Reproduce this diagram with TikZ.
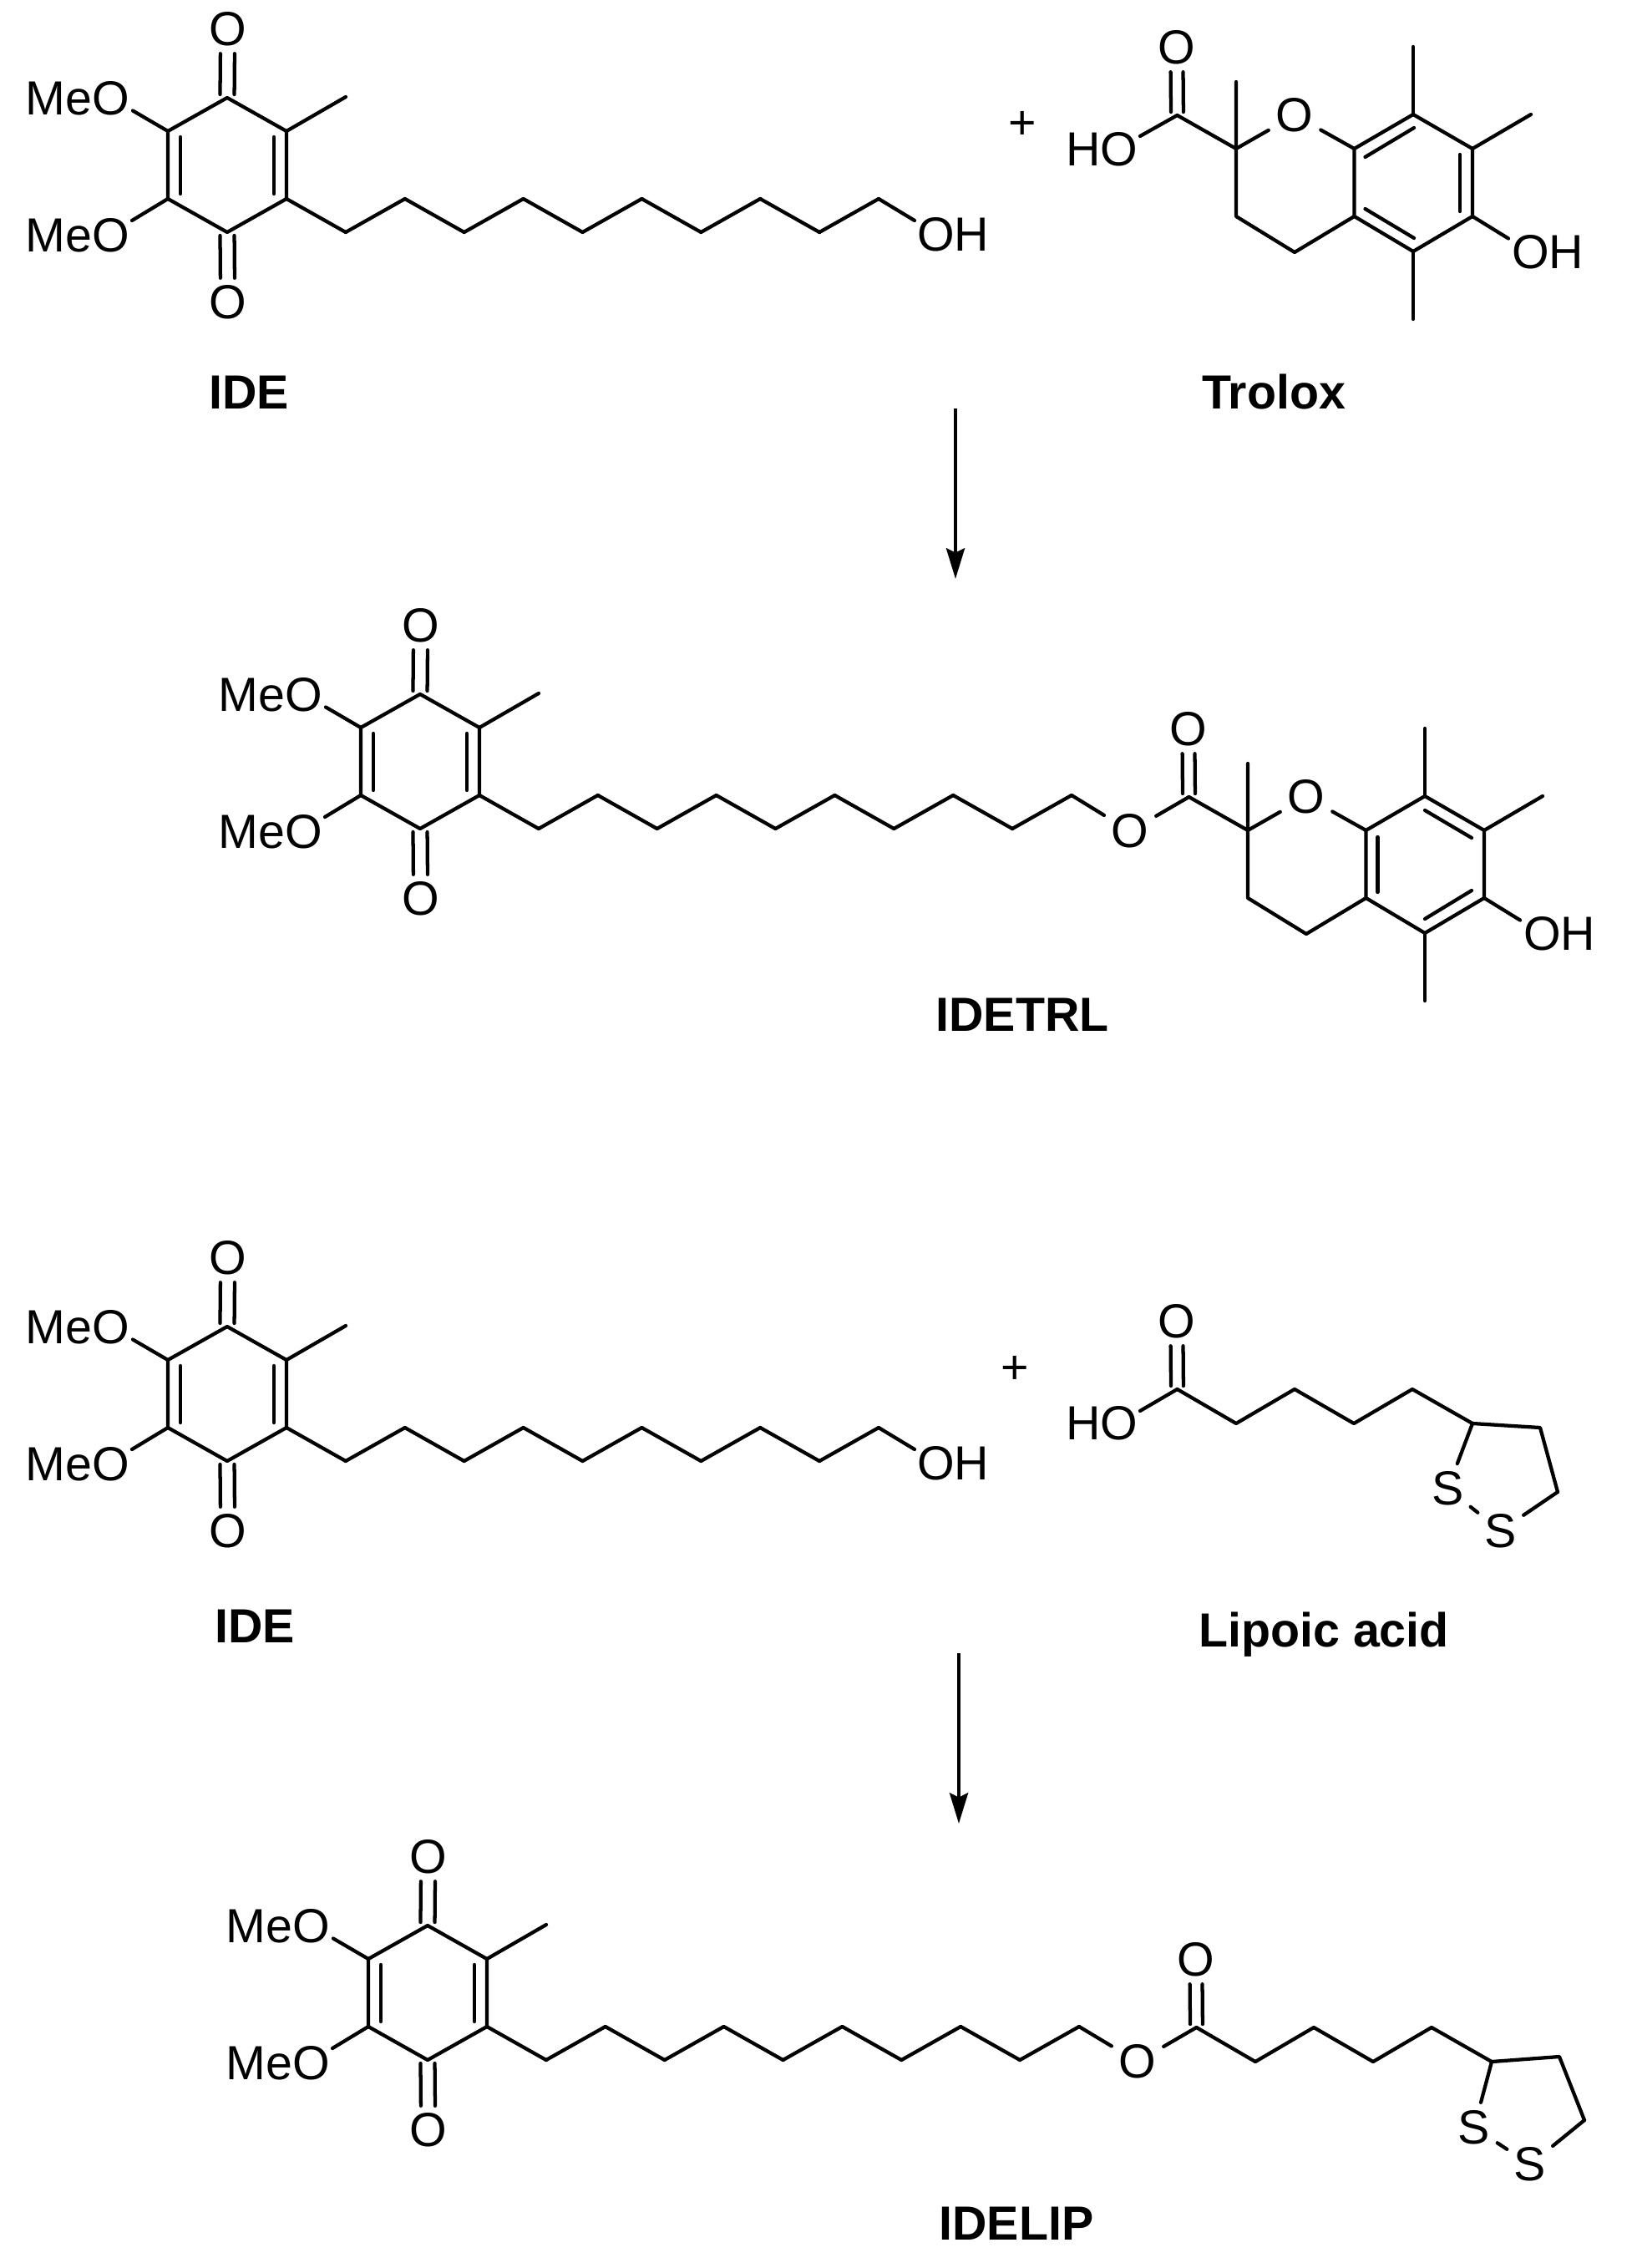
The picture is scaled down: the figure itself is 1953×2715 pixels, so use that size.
\documentclass[tikz,border=0pt]{standalone}
\usepackage{fontspec}
\setmainfont{Liberation Sans}
\usetikzlibrary{arrows.meta}
\tikzset{
	bond/.style={line width=3.2pt, line cap=round, line join=round},
	hetero/.style={bond, shorten <=7.5pt},
	dbl/.style={bond, shorten <=6.5pt, shorten >=3pt},
	rxn/.style={line width=3.5pt, -{Stealth[length=27.5pt,width=16.5pt,inset=4pt]}},
	atom/.style={inner sep=0pt, font=\fontsize{43}{43}\selectfont},
	lbl/.style={inner sep=0pt, anchor=base, font=\fontsize{43}{43}\selectfont\bfseries}}

\begin{document}
\begin{tikzpicture}[x=0.75pt,y=0.75pt,yscale=-1,xscale=1]
	\useasboundingbox (0,0) rectangle (1953,2715);

	%Shape: Quinone with side chain
	\foreach \mol/\dx/\dy in {ideA/0/0,trl/231/714,ideB/0/1471,lip/240/2188}{
	\begin{scope}[shift={(\dx,\dy)}]
		\coordinate (\mol-c1) at (272,117);
		\coordinate (\mol-c2) at (201,157);
		\coordinate (\mol-c3) at (201,238);
		\coordinate (\mol-c4) at (272,278);
		\coordinate (\mol-c5) at (343,238);
		\coordinate (\mol-c6) at (343,157);
		\coordinate (\mol-me) at (414,116);
		\coordinate (\mol-e1) at (159,132.5);
		\coordinate (\mol-e2) at (158,264);
		\foreach \k in {0,...,10}
			\coordinate (\mol-ch\k) at ({343+70.9*\k},{238+40*mod(\k,2)});
		\node[atom] (\mol-o1) at (272.5,35) {O};
		\node[atom] (\mol-o2) at (272.5,362) {O};
		\node[atom] (\mol-meo1) at (93,117.5) {MeO};
		\node[atom] (\mol-meo2) at (93,281.5) {MeO};
		\draw[bond] (\mol-c1) -- (\mol-c2) -- (\mol-c3) -- (\mol-c4) -- (\mol-c5) -- (\mol-c6) -- cycle;
		\draw[bond] (\mol-c6) -- (\mol-me);
		\draw[bond] (\mol-e1) -- (\mol-c2);
		\draw[bond] (\mol-e2) -- (\mol-c3);
		\draw[dbl] ([xshift=-6.4pt]\mol-o1.south) -- ([xshift=-6.4pt]\mol-c1);
		\draw[dbl] ([xshift=6.4pt]\mol-o1.south) -- ([xshift=6.4pt]\mol-c1);
		\draw[dbl] ([xshift=-6.4pt]\mol-o2.north) -- ([xshift=-6.4pt]\mol-c4);
		\draw[dbl] ([xshift=6.4pt]\mol-o2.north) -- ([xshift=6.4pt]\mol-c4);
		\draw[bond] ([shift={(15,7)}]\mol-c2) -- ([shift={(15,-6)}]\mol-c3);
		\draw[bond] ([shift={(-15,7)}]\mol-c6) -- ([shift={(-15,-6)}]\mol-c5);
		\foreach \k [remember=\k as \j (initially 0)] in {1,...,10}
			\draw[bond] (\mol-ch\j) -- (\mol-ch\k);
	\end{scope}}

	%Shape: Terminal hydroxyl
	\foreach \mol/\dy in {ideA/0,ideB/1471}{
		\coordinate (\mol-e3) at (1095,{264+\dy});
		\node[atom] (\mol-oh) at (1141,{280.5+\dy}) {OH};
		\draw[bond] (\mol-ch10) -- (\mol-e3);
	}

	%Shape: Chroman ring
	\foreach \ring/\dx/\dy in {tro/0/0,tra/14/816}{
	\begin{scope}[shift={(\dx,\dy)}]
		\coordinate (\ring-co) at (1409.5,138);
		\coordinate (\ring-c2) at (1480,178);
		\coordinate (\ring-c3) at (1480,259);
		\coordinate (\ring-c4) at (1550,302);
		\coordinate (\ring-ca) at (1621.5,259);
		\coordinate (\ring-c5) at (1692,301);
		\coordinate (\ring-c6) at (1763,259);
		\coordinate (\ring-c7) at (1763,178);
		\coordinate (\ring-c8) at (1692,137);
		\coordinate (\ring-cb) at (1621.5,178);
		\coordinate (\ring-m2) at (1480,98);
		\coordinate (\ring-m5) at (1692,382);
		\coordinate (\ring-m7) at (1833,137);
		\coordinate (\ring-m8) at (1692,56);
		\coordinate (\ring-e1) at (1806,285.5);
		\node[atom] (\ring-o1) at (1409,57) {O};
		\node[atom] (\ring-o2) at (1550,138) {O};
		\node[atom] (\ring-oh) at (1853,301.5) {OH};
		\draw[bond] (\ring-c2) -- (\ring-c3) -- (\ring-c4) -- (\ring-ca) -- (\ring-c5) -- (\ring-c6) -- (\ring-c7) -- (\ring-c8) -- (\ring-cb) -- (\ring-ca);
		\draw[bond] (\ring-co) -- (\ring-c2) -- (\ring-m2);
		\draw[bond] (\ring-c5) -- (\ring-m5);
		\draw[bond] (\ring-c7) -- (\ring-m7);
		\draw[bond] (\ring-c8) -- (\ring-m8);
		\draw[bond] (\ring-c6) -- (\ring-e1);
		\draw[hetero] (\ring-o2) -- (\ring-c2);
		\draw[hetero] (\ring-o2) -- (\ring-cb);
		\draw[dbl] ([xshift=-5.6pt]\ring-o1.south) -- ([xshift=-5.6pt]\ring-co);
		\draw[dbl] ([xshift=5.6pt]\ring-o1.south) -- ([xshift=5.6pt]\ring-co);
	\end{scope}}
	\draw[bond] ([shift={(13,10)}]tro-cb) -- ([shift={(1,16)}]tro-c8);
	\draw[bond] ([shift={(-15,7)}]tro-c7) -- ([shift={(-15,-6)}]tro-c6);
	\draw[bond] ([shift={(13,-9)}]tro-ca) -- ([shift={(1,-16)}]tro-c5);
	\draw[bond] ([shift={(14,8)}]tra-cb) -- ([shift={(14,-7)}]tra-ca);
	\draw[bond] ([shift={(0,17)}]tra-c8) -- ([shift={(-15,9)}]tra-c7);
	\draw[bond] ([shift={(-15,-9)}]tra-c6) -- ([shift={(0,-17)}]tra-c5);

	%Shape: Pentanoyl chain
	\foreach \acid/\dx/\dy in {lia/0/0,lib/23/764}{
	\begin{scope}[shift={(\dx,\dy)}]
		\coordinate (\acid-co) at (1409.5,1663);
		\coordinate (\acid-c1) at (1480,1704);
		\coordinate (\acid-c2) at (1550,1663);
		\coordinate (\acid-c3) at (1621,1704);
		\coordinate (\acid-c4) at (1691,1663);
		\coordinate (\acid-c5) at (1763,1704);
		\node[atom] (\acid-o1) at (1409,1582) {O};
		\draw[bond] (\acid-co) -- (\acid-c1) -- (\acid-c2) -- (\acid-c3) -- (\acid-c4) -- (\acid-c5);
		\draw[dbl] ([xshift=-5.6pt]\acid-o1.south) -- ([xshift=-5.6pt]\acid-co);
		\draw[dbl] ([xshift=5.6pt]\acid-o1.south) -- ([xshift=5.6pt]\acid-co);
	\end{scope}}

	%Shape: Dithiolane, lipoic acid
	\coordinate (lia-r1) at (1844,1709);
	\coordinate (lia-r2) at (1865,1786);
	\node[atom] (lia-s1) at (1733.5,1782) {S};
	\node[atom] (lia-s2) at (1796.5,1832.5) {S};
	\draw[bond] (lia-c5) -- (lia-r1) -- (lia-r2);
	\draw[hetero] (lia-s1) -- (lia-c5);
	\draw[hetero] (lia-s2) -- (lia-r2);
	\draw[hetero, shorten >=7.5pt] (lia-s1) -- (lia-s2);

	%Shape: Dithiolane, IDELIP
	\coordinate (lib-r1) at (1867,2462);
	\coordinate (lib-r2) at (1897,2538);
	\node[atom] (lib-s1) at (1765,2547) {S};
	\node[atom] (lib-s2) at (1832,2591) {S};
	\draw[bond] (lib-c5) -- (lib-r1) -- (lib-r2);
	\draw[hetero] (lib-s1) -- (lib-c5);
	\draw[hetero] (lib-s2) -- (lib-r2);
	\draw[hetero, shorten >=7.5pt] (lib-s1) -- (lib-s2);

	%Shape: Acid and ester links
	\coordinate (tro-e2) at (1365,163);
	\coordinate (lia-e2) at (1365,1689);
	\node[atom] (tro-ho) at (1319.5,179) {HO};
	\node[atom] (lia-ho) at (1319.5,1704) {HO};
	\draw[bond] (tro-co) -- (tro-e2);
	\draw[bond] (lia-co) -- (lia-e2);
	\node[atom] (trl-oe) at (1353,995) {O};
	\node[atom] (lip-oe) at (1362,2468) {O};
	\draw[hetero] (trl-oe) -- (trl-ch10);
	\draw[hetero] (trl-oe) -- (tra-co);
	\draw[hetero] (lip-oe) -- (lip-ch10);
	\draw[hetero] (lip-oe) -- (lib-co);

	%Straight Lines
	\coordinate (arrA-a) at (1144,489);
	\coordinate (arrA-b) at (1144,693);
	\coordinate (arrB-a) at (1148,1979);
	\coordinate (arrB-b) at (1148,2183);
	\draw[rxn] (arrA-a) -- (arrA-b);
	\draw[rxn] (arrB-a) -- (arrB-b);

	% Text Node
	\node[atom] (plusA) at (1224.5,150) {+};
	\node[atom] (plusB) at (1215.5,1640) {+};
	\node[lbl] (ideAname) at (298,489) {IDE};
	\node[lbl] (troname) at (1525,489) {Trolox};
	\node[lbl] (trlname) at (1224,1234) {IDETRL};
	\node[lbl] (ideBname) at (305,1966) {IDE};
	\node[lbl] (lianame) at (1585,1971) {Lipoic acid};
	\node[lbl] (lipname) at (1217,2681) {IDELIP};
\end{tikzpicture}
\end{document}
